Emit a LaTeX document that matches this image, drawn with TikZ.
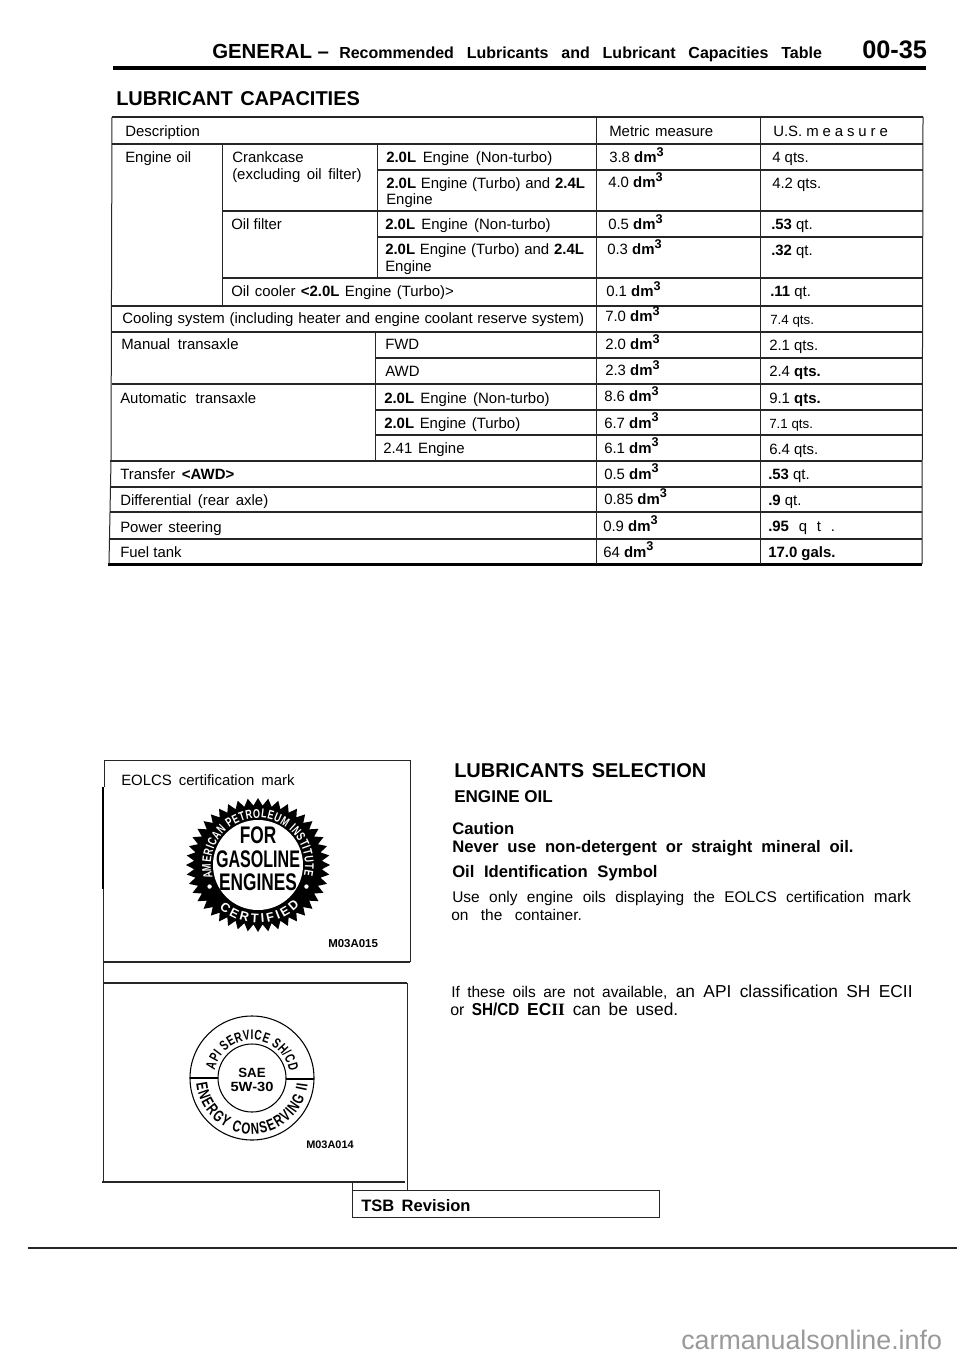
\documentclass[tikz,border=0pt]{standalone}
\usepackage{fontspec}
\setmainfont{Liberation Sans}
\newfontfamily\apifont[FakeStretch=.72]{Liberation Sans}
\newfontfamily\iifont{Liberation Serif}
\usetikzlibrary{decorations.text}
\newcommand{\fitw}[2]{\makebox[#1pt][s]{#2}}
\newcommand{\dm}{\textbf{dm\raisebox{.42em}{\fontsize{9.5}{9.5}\selectfont 3}}}
\newcommand{\qsm}[1]{{\fontsize{10}{12}\selectfont #1}}
\newcommand{\apia}{\apifont\bfseries\fontsize{9.5}{11}\selectfont}
\newcommand{\apib}{\apifont\bfseries\fontsize{10.5}{12}\selectfont}
\newcommand{\apic}{\apifont\bfseries\fontsize{12}{13}\selectfont}
\newcommand{\apid}{\bfseries\fontsize{9.5}{11}\selectfont}
\begin{document}
\begin{tikzpicture}[x=0.75pt,y=-0.75pt,
  every node/.style={inner sep=0pt,anchor=base west},
  cell/.style={font=\fontsize{11.2}{13}\selectfont},
  head/.style={font=\bfseries\fontsize{15}{18}\selectfont},
  sub/.style={font=\bfseries\fontsize{12.5}{14}\selectfont},
  rule/.style={line width=1.1pt,color=black!85},
  thin rule/.style={line width=0.75pt,color=black!85}]
  \useasboundingbox (0,0) rectangle (960,1358);
  % page header
  \node[font=\bfseries\fontsize{15.3}{18}\selectfont] (general) at (212,59) {GENERAL --};
  \node[font=\bfseries\fontsize{12}{14}\selectfont] (recommended) at (339,59) {\fitw{362}{Recommended Lubricants and Lubricant Capacities Table}};
  \node[font=\bfseries\fontsize{19}{20}\selectfont] (pageno) at (862,59) {00-35};
  \draw [line width=3pt] (113,68) -- (926,68);
  \node[head] (capacities) at (116,106) {\fitw{181}{LUBRICANT \ CAPACITIES}};
  % table rules
  \foreach \yy/\xa/\xb in {117/112/923,144/112/923,170/377/923,211/222/923,237/377/923,278/222/923,
    306/112/923,332/112/923,358/376/922,384/112/922,410/375/922,435/375/922,461/110/922,487/110/922,
    512/110/922,539/109/922}
   \draw [rule] (\xa,\yy) -- (\xb,\yy);
  \draw [line width=1.6pt] (108,564.5) -- (922,564.5);
  \draw [thin rule] (112,117) -- (111,461) -- (109,564);
  \draw [thin rule] (923,117) -- (922,564);
  \foreach \xx in {596,760} \draw [thin rule] (\xx,117) -- (\xx,564);
  \draw [thin rule] (222,144) -- (222,306);
  \draw [thin rule] (377,144) -- (377,278);
  \draw [thin rule] (375,332) -- (375,461);
  % table text
  \node[cell] (description) at (125,137) {Description};
  \node[cell] (metric) at (609,137) {\fitw{78}{Metric measure}};
  \node[cell] (usm) at (773,137) {\fitw{86}{U.S. m e a s u r e}};
  \node[cell] (engineoil) at (125,163) {\fitw{49.5}{Engine oil}};
  \node[cell] (crankcase) at (232,163) {Crankcase};
  \node[cell] (excluding) at (232,180) {\fitw{97}{(excluding oil filter)}};
  \node[cell] (e1) at (386,163) {\fitw{124.5}{\textbf{2.0L} Engine (Non-turbo)}};
  \node[cell] (e2) at (386,189) {\fitw{149}{\textbf{2.0L} Engine (Turbo) and \textbf{2.4L}}};
  \node[cell] (e2b) at (386,205) {Engine};
  \node[cell] (oilfilter) at (231,230) {Oil filter};
  \node[cell] (e3) at (385,230) {\fitw{124}{\textbf{2.0L} Engine (Non-turbo)}};
  \node[cell] (e4) at (385,255) {\fitw{149}{\textbf{2.0L} Engine (Turbo) and \textbf{2.4L}}};
  \node[cell] (e4b) at (385,272) {Engine};
  \node[cell] (oilcooler) at (231,297) {\fitw{167}{Oil cooler \textbf{<2.0L} Engine (Turbo)>}};
  \node[cell] (cooling) at (122,324) {\fitw{346.5}{Cooling system (including heater and engine coolant reserve system)}};
  \node[cell] (manual) at (121,350) {\fitw{88}{Manual transaxle}};
  \node[cell] (fwd) at (385,350) {FWD};
  \node[cell] (awd) at (385,377) {AWD};
  \node[cell] (automatic) at (120,403) {\fitw{102}{Automatic transaxle}};
  \node[cell] (e5) at (384,403) {\fitw{124}{\textbf{2.0L} Engine (Non-turbo)}};
  \node[cell] (e6) at (384,428) {\fitw{102}{\textbf{2.0L} Engine (Turbo)}};
  \node[cell] (e7) at (383,453) {\fitw{61}{2.41 Engine}};
  \node[cell] (transfer) at (120,479) {\fitw{85.5}{Transfer \textbf{<AWD>}}};
  \node[cell] (differential) at (120,505) {\fitw{111}{Differential (rear axle)}};
  \node[cell] (power) at (120,532) {\fitw{76}{Power steering}};
  \node[cell] (fuel) at (120,557) {Fuel tank};
  % metric column
  \node[cell] (m1) at (609,163) {3.8 \dm};
  \node[cell] (m2) at (608,188) {4.0 \dm};
  \node[cell] (m3) at (608,230) {0.5 \dm};
  \node[cell] (m4) at (607,255) {0.3 \dm};
  \node[cell] (m5) at (606,297) {0.1 \dm};
  \node[cell] (m6) at (605,322) {7.0 \dm};
  \node[cell] (m7) at (605,350) {2.0 \dm};
  \node[cell] (m8) at (605,376) {2.3 \dm};
  \node[cell] (m9) at (604,402) {8.6 \dm};
  \node[cell] (m10) at (604,428) {6.7 \dm};
  \node[cell] (m11) at (604,453) {6.1 \dm};
  \node[cell] (m12) at (604,479) {0.5 \dm};
  \node[cell] (m13) at (604,504) {0.85 \dm};
  \node[cell] (m14) at (603,531) {0.9 \dm};
  \node[cell] (m15) at (603,557) {64 \dm};
  % U.S. column
  \node[cell] (u1) at (772,163) {4 qts.};
  \node[cell] (u2) at (772,189) {4.2 qts.};
  \node[cell] (u3) at (771,230) {\textbf{.53} qt.};
  \node[cell] (u4) at (771,256) {\textbf{.32} qt.};
  \node[cell] (u5) at (770,297) {\textbf{.11} qt.};
  \node[cell] (u6) at (770,325) {\qsm{7.4 qts.}};
  \node[cell] (u7) at (769,351) {2.1 qts.};
  \node[cell] (u8) at (769,377) {2.4 \textbf{qts.}};
  \node[cell] (u9) at (769,403) {9.1 \textbf{qts.}};
  \node[cell] (u10) at (769,428) {\qsm{7.1 qts.}};
  \node[cell] (u11) at (769,454) {6.4 qts.};
  \node[cell] (u12) at (768,479) {\textbf{.53} qt.};
  \node[cell] (u13) at (768,505) {\textbf{.9} qt.};
  \node[cell] (u14) at (768,531) {\fitw{50}{\textbf{.95} q t .}};
  \node[cell] (u15) at (768,557) {\textbf{17.0 gals.}};
  % frames round the two marks
  \draw [thin rule] (105,760) -- (410,760) -- (410,962);
  \draw [rule] (103,962) -- (410,962);
  \draw [thin rule] (104,760) -- (104,787);
  \draw [line width=1.8pt] (103,787) -- (103,889);
  \draw [thin rule] (103,889) -- (103,1182);
  \draw [rule] (103,983) -- (407,983);
  \draw [thin rule] (407,983) -- (407,1190);
  \draw [rule] (102,1182) -- (405,1182);
  \draw [thin rule] (352,1182) -- (352,1190);
  \node[cell] (eolcs) at (121,785) {\fitw{130}{EOLCS certification mark}};
  % certified mark
  \begin{scope}[shift={(258,865)},y=0.75pt]
   \fill [yscale=.93] (72,0) \foreach \i in {0,...,43} {
     -- ({\i*360/44}:72) -- ({(\i+.5)*360/44}:64)} -- cycle;
   \fill [white] (0,0) circle (45);
   \path [decorate,decoration={text along path,text color=white,text align={fit to path},
     text={|\apia|AMERICAN PETROLEUM INSTITUTE}}] (196:47) arc (196:-13:47);
   \path [decorate,decoration={text along path,text color=white,text align={fit to path},
     text={|\apid|CERTIFIED}}] (228:58) arc (228:316:58);
   \fill [white] (204:53) circle (2.2);
   \fill [white] (-24:53) circle (2.2);
  \end{scope}
  \node[anchor=base,font=\bfseries\fontsize{18}{18}\selectfont] (forg) at (258,843) {\scalebox{.72}[1]{FOR}};
  \node[anchor=base,font=\bfseries\fontsize{18}{18}\selectfont] (gasoline) at (258,867) {\scalebox{.67}[1]{GASOLINE}};
  \node[anchor=base,font=\bfseries\fontsize{18}{18}\selectfont] (engines) at (258,890) {\scalebox{.72}[1]{ENGINES}};
  \node[font=\bfseries\fontsize{8.6}{10}\selectfont] (m03a015) at (328,947) {M03A015};
  % service mark
  \begin{scope}[shift={(252,1078)},y=0.75pt]
   \draw [line width=0.8pt] (0,0) circle (62);
   \draw [line width=0.8pt] (0,0) circle (34);
   \draw [line width=0.8pt] (-62,0) -- (-34,0);
   \draw [line width=0.8pt] (34,-1) -- (62,-1);
   \path [decorate,decoration={text along path,text align={fit to path},
     text={|\apib|API SERVICE SH/CD}}] (168:38) arc (168:10:38);
   \path [decorate,decoration={text along path,text align={fit to path},
     text={|\apic|ENERGY CONSERVING II}}] (186:56) arc (186:354:56);
  \end{scope}
  \node[anchor=base,font=\bfseries\fontsize{10}{12}\selectfont] (sae) at (252,1077) {SAE};
  \node[anchor=base,font=\bfseries\fontsize{10}{12}\selectfont] (sw) at (252,1091) {\scalebox{1.1}[1]{5W-30}};
  \node[font=\bfseries\fontsize{8.2}{10}\selectfont] (m03a014) at (306,1148) {M03A014};
  % right column
  \node[head] (selection) at (454,777) {\fitw{189}{LUBRICANTS SELECTION}};
  \node[font=\bfseries\fontsize{12.8}{15}\selectfont] (engineoilhd) at (454,802) {ENGINE OIL};
  \node[sub] (caution) at (452,834) {Caution};
  \node[sub] (never) at (452,852) {\fitw{301}{Never use non-detergent or straight mineral oil.}};
  \node[sub] (symbol) at (452,877) {\fitw{154}{Oil Identification Symbol}};
  \node[font=\fontsize{11.6}{14}\selectfont] (use) at (452,902) {\fitw{344}{Use only engine oils displaying the EOLCS certification {\fontsize{12.5}{14}\selectfont mark}}};
  \node[font=\fontsize{11.6}{14}\selectfont] (container) at (451,920) {\fitw{98}{on the container.}};
  \node[font=\fontsize{11.6}{14}\selectfont] (these) at (451,997) {\fitw{346}{If these oils are not available, {\fontsize{13}{15}\selectfont an API classification SH ECII}}};
  \node[font=\fontsize{12}{15}\selectfont] (used) at (450,1015) {\fitw{171}{or {\fontsize{13}{15}\selectfont \scalebox{.88}[1]{\textbf{SH/CD}} \textbf{EC{\iifont II}} can be used.}}};
  % bottom of the page
  \draw [thin rule] (352,1190) rectangle (659,1217);
  \node[font=\bfseries\fontsize{12.4}{14}\selectfont] (tsb) at (361,1211) {\fitw{82}{TSB \ Revision}};
  \draw [rule] (28,1248) -- (957,1248);
  \node[font=\fontsize{20.1}{22}\selectfont,text=black!40] (site) at (681,1349) {carmanualsonline.info};
 \end{tikzpicture}
\end{document}
